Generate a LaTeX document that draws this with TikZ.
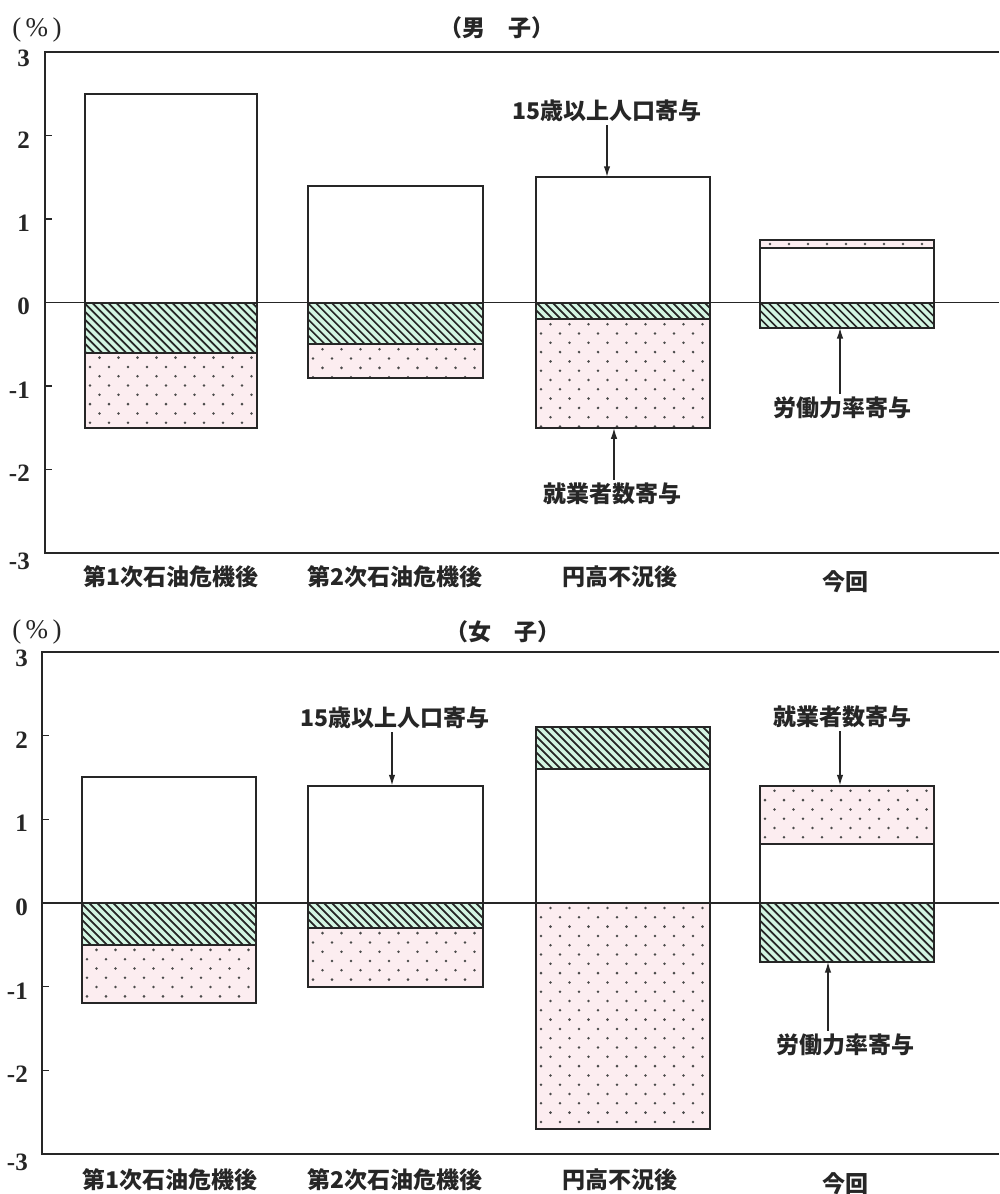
\documentclass[tikz,border=0pt]{standalone}
\usepackage{fontspec}
\setmainfont{Liberation Serif}
\newfontfamily\cjk{Noto Sans CJK JP}
\usetikzlibrary{arrows.meta}
\definecolor{ink}{HTML}{262626}
\definecolor{mint}{HTML}{D3F5E2}
\definecolor{blush}{HTML}{FCEDF0}
\definecolor{dotc}{HTML}{4A4A4A}
\tikzset{
  frame/.style={draw=ink, line width=2.3pt},
  bar/.style={draw=ink, line width=2pt},
  zero/.style={draw=ink, line width=1.5pt},
  tickl/.style={draw=ink, line width=1.5pt},
  lbl/.style={font=\cjk\bfseries\fontsize{23}{23}\selectfont, text=ink, inner sep=3pt},
  num/.style={font=\bfseries\fontsize{25}{25}\selectfont, text=ink, anchor=east, inner sep=0pt},
  ann/.style={draw=ink, line width=1.6pt, -{Latex[length=11pt,width=6.5pt]}}
}
\newcommand\hatchrect[4]{%
  \begin{scope}
    \clip (#1,#2) rectangle (#3,#4);
    \fill[mint] (#1,#2) rectangle (#3,#4);
    \pgfmathsetmacro\hatchH{#4-#2+6}
    \pgfmathsetmacro\hatchS{#1-\hatchH-4}
    \pgfmathsetmacro\hatchN{\hatchS+8}
    \foreach \xx in {\hatchS,\hatchN,...,#3}
      \draw[ink, line width=1.7pt] (\xx,#2-3) -- ++(\hatchH,\hatchH);
  \end{scope}
  \draw[bar] (#1,#2) rectangle (#3,#4);}
\newcommand\dotrect[4]{%
  \begin{scope}
    \clip (#1,#2) rectangle (#3,#4);
    \fill[blush] (#1,#2) rectangle (#3,#4);
    \pgfmathsetmacro\dotA{#2+5}
    \pgfmathsetmacro\dotB{#2+14.3}
    \foreach \yy [count=\k] in {\dotA,\dotB,...,#4} {
      \pgfmathsetmacro\dotX{#1+5+mod(\k,2)*9.5}
      \pgfmathsetmacro\dotY{\dotX+19}
      \foreach \xx in {\dotX,\dotY,...,#3}
        \fill[dotc] (\xx,\yy) circle (1.4pt);
    }
  \end{scope}
  \draw[bar] (#1,#2) rectangle (#3,#4);}
\newcommand\dotstrip[4]{%
  \begin{scope}
    \clip (#1,#2) rectangle (#3,#4);
    \fill[blush] (#1,#2) rectangle (#3,#4);
    \pgfmathsetmacro\dotA{(#2+#4)/2}
    \pgfmathsetmacro\dotX{#1+10}
    \pgfmathsetmacro\dotY{\dotX+19}
    \foreach \xx in {\dotX,\dotY,...,#3}
      \fill[dotc] (\xx,\dotA) circle (1.4pt);
  \end{scope}
  \draw[bar] (#1,#2) rectangle (#3,#4);}
\begin{document}
\begin{tikzpicture}[x=1pt,y=-1pt]
\useasboundingbox[fill=white] (0,0) rectangle (999,1194);

% ================= top chart (male) =================
\node[font=\fontsize{27}{27}\selectfont, text=ink] (pctA) at (37,30) {(\,\%\,)};
\node[lbl] (titleA) at (497,28) {（男　子）};

% bars
\draw[bar, fill=white] (85,93.75) rectangle (257,302.5);
\hatchrect{85}{302.5}{257}{352.6}
\dotrect{85}{352.6}{257}{427.75}

\draw[bar, fill=white] (308,185.6) rectangle (483,302.5);
\hatchrect{308}{302.5}{483}{344.25}
\dotrect{308}{344.25}{483}{377.65}

\draw[bar, fill=white] (536,177.25) rectangle (710,302.5);
\hatchrect{536}{302.5}{710}{319.2}
\dotrect{536}{319.2}{710}{427.75}

\draw[bar, fill=white] (760,248.2) rectangle (934,302.5);
\dotstrip{760}{239.9}{934}{248.2}
\hatchrect{760}{302.5}{934}{327.55}

% frame, ticks, zero line
\draw[frame] (999,52) -- (45,52) -- (45,553) -- (999,553);
\foreach \t in {135.5,219,302.5,386,469.5} \draw[tickl] (45,\t) -- (52,\t);
\draw[zero] (45,302.5) -- (999,302.5);

% y labels
\node[num] (ya3) at (30,58) {3};
\node[num] (ya2) at (30,140) {2};
\node[num] (ya1) at (30,223) {1};
\node[num] (ya0) at (30,306) {0};
\node[num] (yam1) at (30,390) {-1};
\node[num] (yam2) at (30,473) {-2};
\node[num] (yam3) at (30,561) {-3};

% category labels
\node[lbl] (catA1) at (171,577) {第1次石油危機後};
\node[lbl] (catA2) at (395,577) {第2次石油危機後};
\node[lbl] (catA3) at (620,577) {円高不況後};
\node[lbl] (catA4) at (845,582) {今回};

% annotations
\node[lbl] (annA1) at (607,111) {15歳以上人口寄与};
\coordinate (tgtA1) at (607,177.25);
\draw[ann] (annA1.south -| tgtA1) -- (tgtA1);

\node[lbl] (annA2) at (842,408) {労働力率寄与};
\coordinate (tgtA2) at (840,327.55);
\draw[ann] (annA2.north -| tgtA2) -- (tgtA2);

\node[lbl] (annA3) at (612,494) {就業者数寄与};
\coordinate (tgtA3) at (614,427.75);
\draw[ann] (annA3.north -| tgtA3) -- (tgtA3);

% ================= bottom chart (female) =================
\node[font=\fontsize{27}{27}\selectfont, text=ink] (pctB) at (37,632) {(\,\%\,)};
\node[lbl] (titleB) at (503,632) {（女　子）};

\draw[bar, fill=white] (82,777.45) rectangle (256,903);
\hatchrect{82}{903}{256}{944.85}
\dotrect{82}{944.85}{256}{1003.4}

\draw[bar, fill=white] (308,785.8) rectangle (483,903);
\hatchrect{308}{903}{483}{928.1}
\dotrect{308}{928.1}{483}{986.7}

\draw[bar, fill=white] (536,769.1) rectangle (710,903);
\hatchrect{536}{727.2}{710}{769.1}
\dotrect{536}{903}{710}{1129}

\draw[bar, fill=white] (760,844.4) rectangle (934,903);
\dotrect{760}{785.8}{934}{844.4}
\hatchrect{760}{903}{934}{961.6}

\draw[frame] (999,651.9) -- (42,651.9) -- (42,1154.1) -- (999,1154.1);
\foreach \t in {735.6,819.3,903,986.7,1070.4} \draw[tickl] (42,\t) -- (49,\t);
\draw[zero] (42,903) -- (999,903);

\node[num] (yb3) at (28,658) {3};
\node[num] (yb2) at (28,740) {2};
\node[num] (yb1) at (28,823) {1};
\node[num] (yb0) at (28,907) {0};
\node[num] (ybm1) at (28,991) {-1};
\node[num] (ybm2) at (28,1074) {-2};
\node[num] (ybm3) at (28,1162) {-3};

\node[lbl] (catB1) at (170,1180) {第1次石油危機後};
\node[lbl] (catB2) at (395,1180) {第2次石油危機後};
\node[lbl] (catB3) at (620,1180) {円高不況後};
\node[lbl] (catB4) at (845,1184) {今回};

\node[lbl] (annB1) at (395,718) {15歳以上人口寄与};
\coordinate (tgtB1) at (392,785.8);
\draw[ann] (annB1.south -| tgtB1) -- (tgtB1);

\node[lbl] (annB2) at (842,717) {就業者数寄与};
\coordinate (tgtB2) at (840,785.8);
\draw[ann] (annB2.south -| tgtB2) -- (tgtB2);

\node[lbl] (annB3) at (845,1045) {労働力率寄与};
\coordinate (tgtB3) at (828,961.6);
\draw[ann] (annB3.north -| tgtB3) -- (tgtB3);
\end{tikzpicture}
\end{document}
